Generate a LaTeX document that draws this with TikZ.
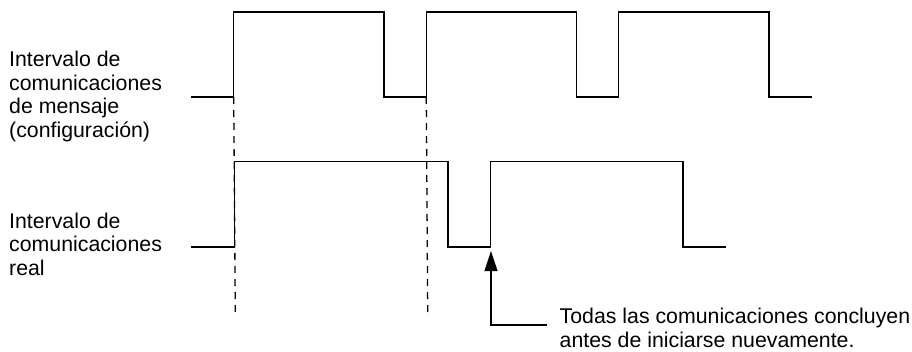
\documentclass[tikz,border=0pt]{standalone}
\usepackage{fontspec}
\setmainfont{Liberation Sans}
\usetikzlibrary{arrows.meta}
\begin{document}
\begin{tikzpicture}[x=1pt,y=-1pt,
  wave/.style={line width=1.4pt,line join=miter},
  guide/.style={line width=1.3pt,dash pattern=on 7pt off 6pt},
  lbl/.style={anchor=base west,inner sep=0pt,font=\fontsize{21.3}{23.6}\selectfont}]
\useasboundingbox (0,0) rectangle (912,351);
% message interval (configured)
\draw[wave] (191,97) -- (233.7,97) -- (233.7,12) -- (384,12) -- (384,97) -- (426.3,97) -- (426.3,12)
  -- (576.5,12) -- (576.5,97) -- (618.5,97) -- (618.5,12) -- (769,12) -- (769,97) -- (811.7,97);
% actual interval
\draw[wave] (191,247) -- (234.3,247) -- (234.3,161.3) -- (448,161.3) -- (448,247) -- (490.5,247) -- (490.5,161.3)
  -- (683,161.3) -- (683,247) -- (725.7,247);
% guides
\coordinate (g1a) at (233.7,97); \coordinate (g1b) at (235.3,313);
\coordinate (g2a) at (426.3,97); \coordinate (g2b) at (427.7,313);
\draw[guide] (g1a) -- (g1b);
\draw[guide] (g2a) -- (g2b);
% labels
\node[lbl] (t1) at (9,66.7) {Intervalo de};
\node[lbl] (t2) at (9,90.3) {comunicaciones};
\node[lbl] (t3) at (9,113.9) {de mensaje};
\node[lbl] (t4) at (9,137.5) {(configuración)};
\node[lbl] (b1) at (9,228.3) {Intervalo de};
\node[lbl] (b2) at (9,251.9) {comunicaciones};
\node[lbl] (b3) at (9,275.5) {real};
\node[lbl] (n1) at (559.5,323.5) {Todas las comunicaciones concluyen};
\node[lbl] (n2) at (559.5,347) {antes de iniciarse nuevamente.};
% annotation arrow
\coordinate (aend) at (547.3,325);
\coordinate (acorner) at (491,325);
\coordinate (atip) at (491,251);
\draw[line width=1.1pt,-{Triangle[length=20pt,width=13pt]}] (aend) -- (acorner) -- (atip);
\end{tikzpicture}
\end{document}
